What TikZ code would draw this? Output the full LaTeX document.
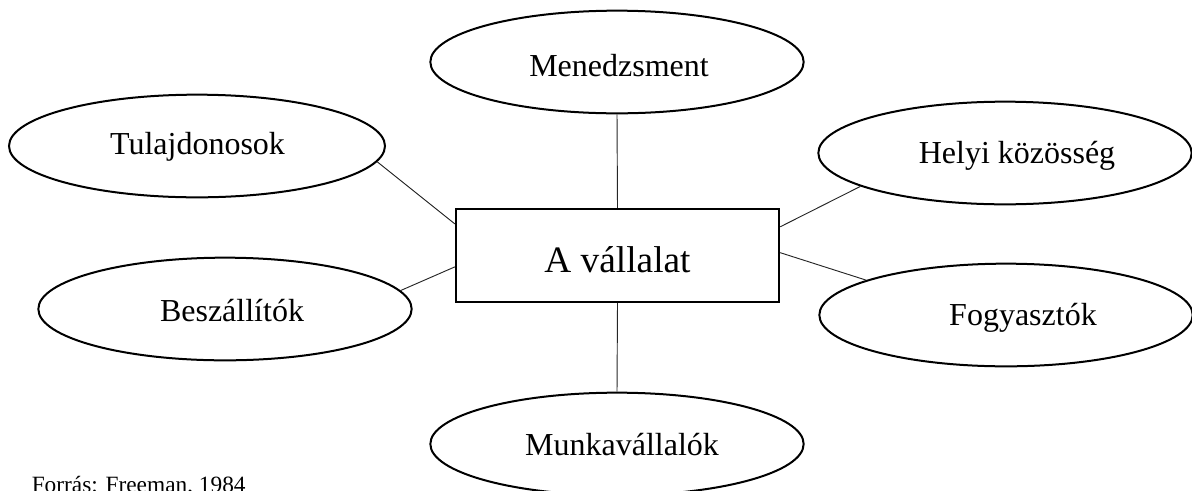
\documentclass[tikz,border=0pt]{standalone}
\usepackage{fontspec}
\setmainfont{Liberation Serif}
\usetikzlibrary{shapes.geometric,calc}
\begin{document}
\begin{tikzpicture}[x=0.75pt,y=-0.75pt,
  oval/.style={draw=black,line width=1.5pt,ellipse,minimum width=280pt,minimum height=77pt,inner sep=0pt},
  boxnode/.style={draw=black,line width=1.5pt,rectangle,minimum width=242.5pt,minimum height=70pt,inner sep=0pt},
  lbl/.style={anchor=base,inner sep=0pt,font=\fontsize{24pt}{28pt}\selectfont},
  link/.style={draw=black!85,line width=0.7pt}]
\useasboundingbox (0,0) rectangle (1192,490);
\clip (0,0) rectangle (1192,490);
% nodes
\node[boxnode] (rect) at (617.5,255.5) {};
\node[anchor=base,inner sep=0pt,font=\fontsize{28pt}{32pt}\selectfont] (rectl) at (617.5,272) {A vállalat};
\node[oval] (men) at (617,62) {};
\node[lbl] (menl) at (619,76) {Menedzsment};
\node[oval,minimum width=282pt] (tul) at (197,146) {};
\node[lbl] (tull) at (197.5,154) {Tulajdonosok};
\node[oval] (besz) at (225,309) {};
\node[lbl] (beszl) at (232,321) {Beszállítók};
\node[oval] (hel) at (1005,153) {};
\node[lbl] (hell) at (1017,163) {Helyi közösség};
\node[oval] (fog) at (1006,315) {};
\node[lbl] (fogl) at (1023,325) {Fogyasztók};
\node[oval] (mun) at (617,444) {};
\node[lbl] (munl) at (622,455) {Munkavállalók};
\node[anchor=base west,inner sep=0pt,font=\fontsize{17.5pt}{21pt}\selectfont] (src) at (31.5,492.5) {Forrás: Freeman, 1984};
% connectors
\draw[link] (men.south) -- (rect.north);
\draw[link] (rect.south) -- (mun.north);
\draw[link] (tul.-5.4) -- (rect.169.9);
\draw[link] (besz.6.8) -- (rect.-176.1);
\draw[link] (hel.193.2) -- (rect.10.8);
\draw[link] (fog.166.2) -- (rect.1.1);
\end{tikzpicture}
\end{document}
